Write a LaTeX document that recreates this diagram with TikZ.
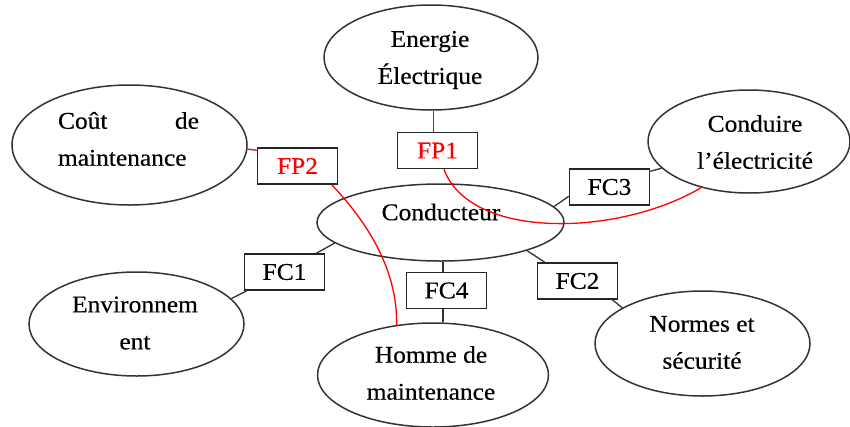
\documentclass[tikz,border=0pt]{standalone}
\usepackage{fontspec}
\setmainfont{Liberation Serif}[FakeStretch=1.06,FakeBold=0.4]
\usetikzlibrary{shapes.geometric,calc}
\begin{document}
\begin{tikzpicture}[x=1pt,y=-1pt,
  ell/.style={draw=black!80, line width=1.5pt, ellipse, inner sep=0pt},
  fbox/.style={draw=black!85, line width=1.5pt, rectangle, minimum width=80pt,
    minimum height=36pt, inner sep=0pt, font=\fontsize{24}{37}\selectfont},
  txt/.style={inner sep=0pt, align=center, font=\fontsize{24}{37}\selectfont},
  blk/.style={draw=black!80, line width=1.3pt},
  rd/.style={draw=red, line width=1.3pt},
]
\useasboundingbox (0,0) rectangle (850,426);

% ellipses of the surroundings and of the product
\node[ell, minimum width=214pt, minimum height=105pt] (ener)  at (431,57.5) {};
\node[ell, minimum width=235pt, minimum height=120pt] (cout)  at (129.5,145) {};
\node[ell, minimum width=202pt, minimum height=103pt] (condu) at (749,141.5) {};
\node[ell, minimum width=247pt, minimum height=77pt]  (ctr)   at (440.5,222.5) {};
\node[ell, minimum width=215pt, minimum height=104pt] (env)   at (136.5,324) {};
\node[ell, minimum width=231pt, minimum height=104pt] (hom)   at (433,375) {};
\node[ell, minimum width=215pt, minimum height=105pt] (norm)  at (702.5,343.5) {};

% ellipse texts
\node[txt] (tener) at (430,60) {Energie\\Électrique};
\node[txt, text width=141pt, align=left] (tcout) at (128.5,139) {Coût\hfill de\\maintenance};
\node[txt] (tcondu) at (755,142) {Conduire\\l’électricité};
\node[txt] (tctr) at (441,212) {Conducteur};
\node[txt] (tenv) at (135,323) {Environnem\\ent};
\node[txt] (tnorm) at (702,342.5) {Normes et\\sécurité};
\node[txt] (thom) at (431,373) {Homme de\\maintenance};

% function boxes
\node[fbox, text=red] (fp2) at (297.5,166) {FP2};
\node[fbox, text=red] (fp1) at (437.5,150.5) {FP1};
\node[fbox] (fc3) at (609.5,187) {FC3};
\node[fbox] (fc1) at (284.5,272) {FC1};
\node[fbox] (fc4) at (446.5,290.5) {FC4};
\node[fbox] (fc2) at (577.5,281) {FC2};

% principal functions
\coordinate (fp1top) at ([xshift=-4pt]fp1.north);
\draw[rd] (fp1top) -- (fp1top |- ener.south);
\draw[rd] ([xshift=6.5pt]fp1.south) .. controls +(26,71) and +(-83,49) .. (condu.224);
\draw[rd] (cout.358) -- ([yshift=-3pt]fp2.north west);
\draw[rd] ([xshift=-6.5pt]fp2.south east) .. controls +(36,38) and +(1,-55) .. (hom.126);

% constraint functions
\draw[blk] (ctr.8) -- ([yshift=-28pt]fc3.north west);
\draw[blk] ([yshift=-3pt]fc3.north east) -- (condu.197);
\draw[blk] (ctr.191) -- ([xshift=-9pt]fc1.north east);
\draw[blk] ([xshift=3pt]fc1.south west) -- (env.15);
\draw[blk] ([xshift=-3.5pt]fc4.north) -- ([xshift=-3.5pt]fc4.north |- ctr.south);
\draw[blk] ([xshift=-3.5pt]fc4.south) -- ([xshift=-3.5pt]fc4.south |- hom.north);
\draw[blk] (ctr.342) -- ([xshift=8pt]fc2.north west);
\draw[blk] ([xshift=-6pt]fc2.south east) -- (norm.156);
\end{tikzpicture}
\end{document}
